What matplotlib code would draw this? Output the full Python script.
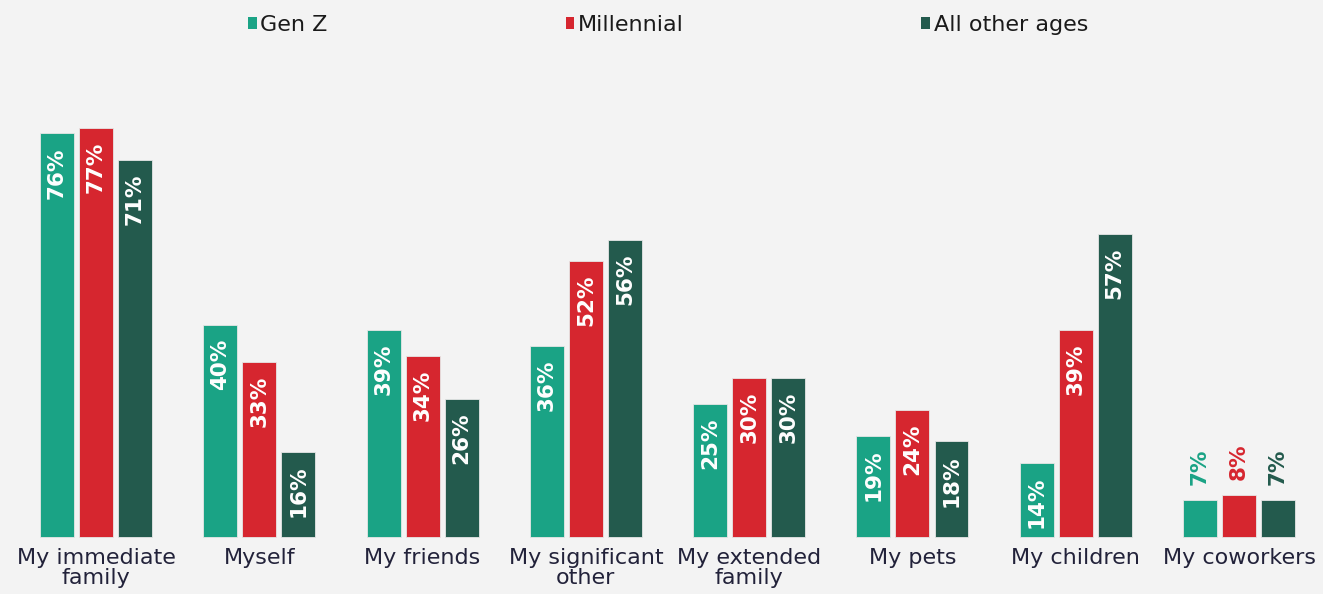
import numpy as np
import matplotlib.pyplot as plt
from matplotlib.patches import Patch

# Who respondents care about, share by generation (%)
categories = ["My immediate\nfamily", "Myself", "My friends", "My significant\nother",
              "My extended\nfamily", "My pets", "My children", "My coworkers"]
gen_z = [76, 40, 39, 36, 25, 19, 14, 7]
millennial = [77, 33, 34, 52, 30, 24, 39, 8]
all_other = [71, 16, 26, 56, 30, 18, 57, 7]
series_names = ["Gen Z", "Millennial", "All other ages"]

colors = ["#1aa385", "#d6262f", "#235a4d"]
bg = "#f3f3f3"
ink = "#22223a"

fig = plt.figure(figsize=(13.23, 5.94), dpi=100, facecolor=bg)
ax = fig.add_axes([0, 0, 1, 1])
ax.set_facecolor(bg)

x = np.arange(len(categories))
width = 0.208
step = 0.239

for i, (vals, col) in enumerate(zip([gen_z, millennial, all_other], colors)):
    xs = x + (i - 1) * step
    ax.bar(xs, vals, width=width, color=col, edgecolor="#e6e6e6", linewidth=0.6)
    for xi, v in zip(xs, vals):
        if v >= 10:
            # value inside the bar, near its top
            ax.text(xi, v - 2.6, f"{v}%", rotation=90, ha="center", va="top",
                    color="white", fontsize=15.5, fontweight="bold")
        else:
            # short bars get the label above, in the series colour
            ax.text(xi, v + 2.8, f"{v}%", rotation=90, ha="center", va="bottom",
                    color=col, fontsize=15.5, fontweight="bold")

# category labels under the baseline
for xi, name in zip(x, categories):
    ax.text(xi, -2.0, name, ha="center", va="top", fontsize=16, color=ink,
            linespacing=1.05)

ax.set_xlim(-0.588, 7.514)
ax.set_ylim(-10.73, 101.1)
ax.axis("off")

handles = [Patch(facecolor=c, edgecolor="none") for c in colors]
fig.legend(handles, series_names, loc="center", bbox_to_anchor=(0.505, 0.958),
           ncol=3, frameon=False, fontsize=16, handlelength=0.4, handleheight=0.5,
           handletextpad=0.15, columnspacing=10.7, labelcolor="#1a1a1a")

fig.savefig("out.png", dpi=100, facecolor=bg)
